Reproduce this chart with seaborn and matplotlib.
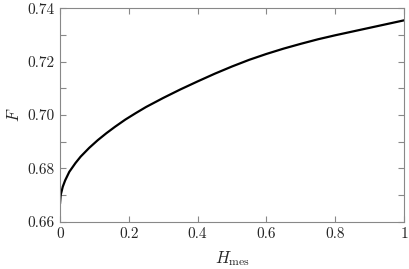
import pandas as pd
import seaborn as sns
import matplotlib.pyplot as plt
from matplotlib.ticker import MultipleLocator, FormatStrFormatter

# values
h_mes = [0, 0.002, 0.008, 0.015, 0.027, 0.045, 0.06, 0.085, 0.11, 0.135,
         0.16, 0.19, 0.22, 0.25, 0.3, 0.35, 0.4, 0.45, 0.5, 0.55, 0.6,
         0.65, 0.7, 0.75, 0.8, 0.85, 0.9, 0.95, 1.0]
f_val = [0.6667, 0.6700, 0.6731, 0.6755, 0.6787, 0.6820, 0.6844, 0.6877,
         0.6906, 0.6932, 0.6956, 0.6983, 0.7007, 0.7030, 0.7064, 0.7096,
         0.7126, 0.7155, 0.7182, 0.7207, 0.7229, 0.7249, 0.7267, 0.7284,
         0.7299, 0.7313, 0.7327, 0.7341, 0.7355]

sns.set_style("ticks")
plt.rcParams['font.family'] = 'serif'
plt.rcParams['font.serif'] = ['cmr10']
plt.rcParams['mathtext.fontset'] = 'cm'
plt.rcParams['axes.formatter.use_mathtext'] = True

df = pd.DataFrame({'H': h_mes, 'F': f_val})

fig = plt.figure(figsize=(4.09, 2.69), dpi=100)
ax = fig.add_axes([0.1467, 0.1758, 0.8411, 0.7932])
sns.lineplot(data=df, x='H', y='F', color='black', linewidth=1.6, ax=ax)

ax.set_xlim(0, 1)
ax.set_ylim(0.66, 0.74)
ax.set_xticks([0, 0.2, 0.4, 0.6, 0.8, 1])
ax.set_xticklabels(['0', '0.2', '0.4', '0.6', '0.8', '1'])
ax.yaxis.set_major_locator(MultipleLocator(0.02))
ax.yaxis.set_minor_locator(MultipleLocator(0.01))
ax.yaxis.set_major_formatter(FormatStrFormatter('%.2f'))

for s in ax.spines.values():
    s.set_color('#888888')
    s.set_linewidth(0.8)
    s.set_visible(True)
ax.tick_params(which='both', direction='in', top=True, right=True,
               color='#888888', width=0.8, length=4, labelsize=11, pad=4)

ax.set_xlabel(r'$H_{\mathrm{mes}}$', fontsize=12, labelpad=6)
ax.set_ylabel(r'$F$', fontsize=12, labelpad=4)

fig.savefig('out.png', dpi=100)
